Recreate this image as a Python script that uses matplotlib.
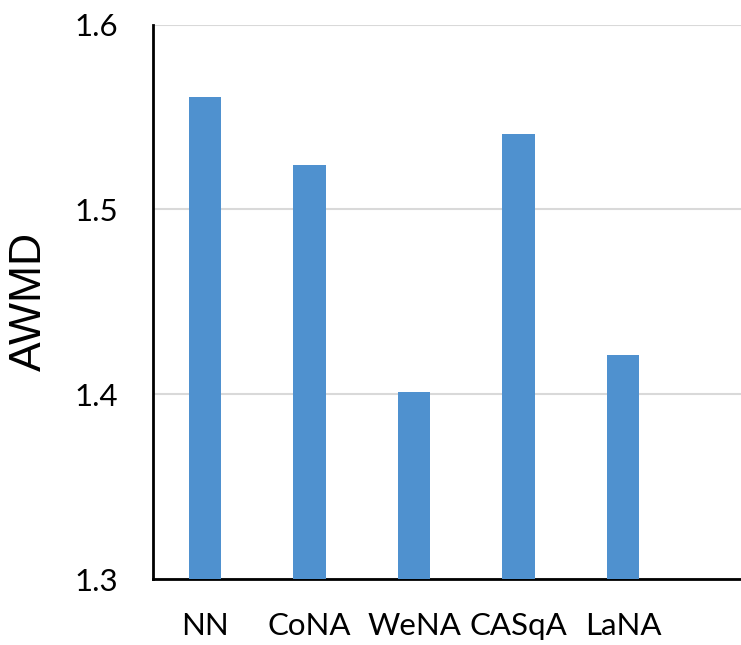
import matplotlib.pyplot as plt

# AWMD per method
methods = ["NN", "CoNA", "WeNA", "CASqA", "LaNA"]
awmd = [1.561, 1.524, 1.401, 1.541, 1.421]

plt.rcParams["font.family"] = ["Lato", "DejaVu Sans"]

fig = plt.figure(figsize=(7.41, 6.45), dpi=100)
ax = fig.add_axes([0.2065, 0.1023, 0.7935, 0.8597])

x = range(len(methods))
ax.bar(x, awmd, width=0.31, color="#4f91cf", zorder=3)

ax.set_ylim(1.3, 1.6)
ax.set_xlim(-0.5, 5.13)
ax.set_yticks([1.3, 1.4, 1.5, 1.6])
ax.set_yticklabels(["1.3", "1.4", "1.5", "1.6"])
ax.set_xticks(list(x))
ax.set_xticklabels(methods)
ax.tick_params(axis="both", length=0, labelsize=22.5)
ax.tick_params(axis="y", pad=25)
ax.tick_params(axis="x", pad=24)

ax.yaxis.grid(True, color="#d9d9d9", linewidth=1.5, zorder=0)
ax.set_axisbelow(True)

for side in ["top", "right"]:
    ax.spines[side].set_visible(False)
for side in ["left", "bottom"]:
    ax.spines[side].set_linewidth(2)
    ax.spines[side].set_color("black")

ax.set_ylabel("AWMD", fontsize=32, family=["Liberation Sans", "DejaVu Sans"])
ax.yaxis.set_label_coords(-0.175, 0.5)

fig.savefig("out.png", dpi=100)
